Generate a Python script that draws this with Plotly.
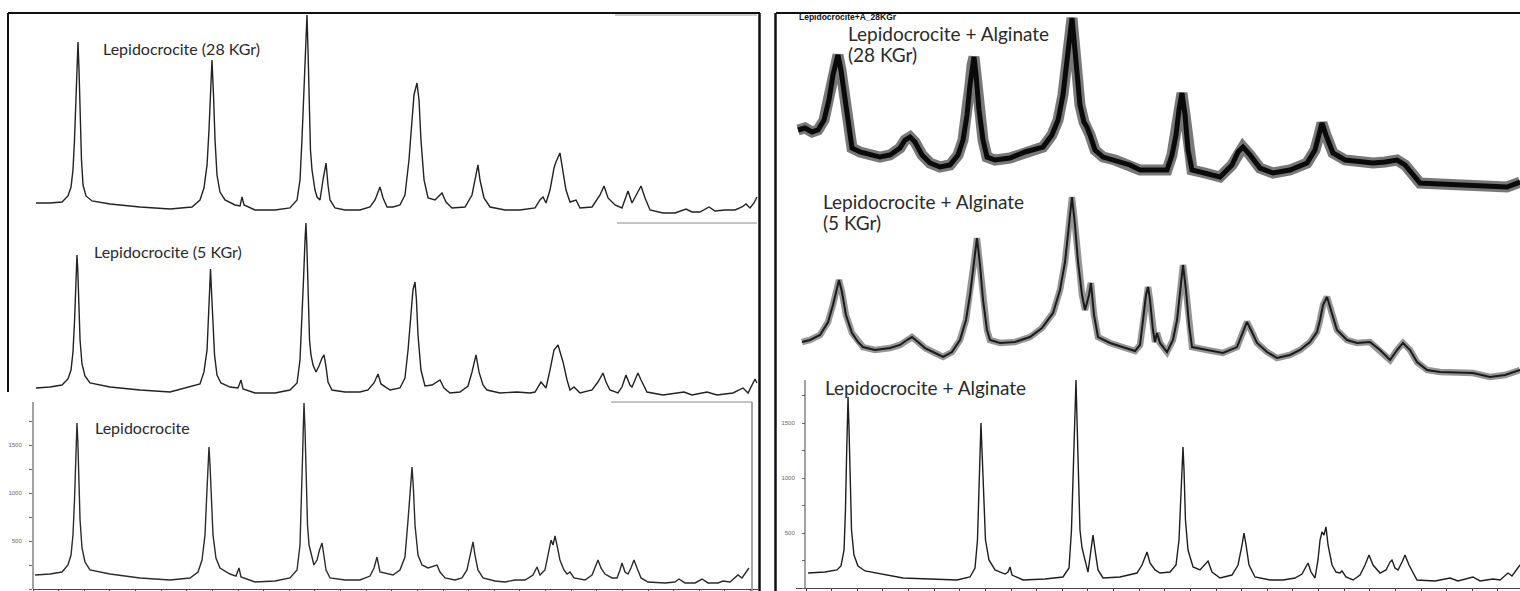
import plotly.graph_objects as go

# ---------------- data (2-theta in degrees, intensity in counts) ----------------
lb_tt = [10.20,11.66,12.83,13.41,13.71,13.90,14.05,14.15,14.24,14.29,14.37,14.47,14.59,14.78,15.07,15.56,17.51,20.44,23.37,25.32,
         26.10,26.49,26.78,26.93,27.07,27.17,27.27,27.41,27.56,27.85,28.24,29.22,29.80,30.10,30.29,31.66,33.61,35.07,35.76,36.05,
         36.20,36.29,36.39,36.44,36.54,36.63,36.78,36.93,37.12,37.41,37.71,37.95,38.20,38.39,38.59,38.98,40.44,41.90,42.88,43.27,
         43.56,43.85,45.12,45.80,46.29,46.59,46.83,46.98,47.12,47.27,47.56,47.95,48.54,49.12,49.41,49.71,50.20,51.17,51.85,52.34,
         52.63,52.93,53.12,53.41,53.90,55.07,56.05,57.02,58.00,58.78,59.17,59.46,59.95,60.34,60.54,60.73,60.93,61.12,61.41,61.80,
         62.10,62.39,62.78,63.85,64.54,64.93,65.12,65.41,65.80,66.49,66.98,67.27,67.46,67.76,68.05,68.34,68.63,68.93,69.32,70.00,
         71.66,72.63,73.02,73.61,74.59,75.27,75.85,76.83,77.32,78.00,78.78,79.17,79.56,79.85]
lb_int = [146,156,177,250,354,563,927,1292,1604,1729,1552,1135,719,427,281,198,156,115,94,115,
          177,302,563,927,1292,1479,1292,875,563,323,219,156,135,219,125,73,83,115,198,458,
          927,1344,1760,1937,1656,1135,667,458,375,250,302,406,479,354,198,115,94,94,135,219,
          333,177,146,198,333,719,1063,1271,1031,667,354,250,219,240,250,177,115,94,115,198,
          354,490,354,198,115,83,73,94,94,146,229,146,198,385,510,458,552,458,302,198,
          156,177,115,94,146,250,302,219,156,115,115,198,271,177,156,219,302,219,115,73,
          63,73,104,63,63,104,63,63,83,73,146,115,177,219]

lm_tt = [10.29,11.66,12.83,13.41,13.71,13.90,14.05,14.15,14.24,14.29,14.37,14.47,14.59,14.78,15.07,15.56,17.51,20.44,23.37,26.29,
         26.68,26.98,27.12,27.22,27.32,27.41,27.56,27.71,27.95,28.34,29.22,30.00,30.29,30.49,31.66,33.61,35.07,35.76,36.05,36.24,
         36.39,36.54,36.63,36.73,36.83,36.98,37.12,37.32,37.61,37.90,38.20,38.39,38.59,38.78,39.17,40.44,41.90,42.68,43.27,43.66,
         43.95,44.83,45.80,46.29,46.59,46.88,47.07,47.27,47.41,47.56,47.85,48.24,48.93,49.71,50.10,50.68,51.66,52.44,52.83,53.22,
         53.51,53.90,54.29,55.56,57.22,58.49,58.98,59.56,60.05,60.44,60.83,61.22,61.41,61.71,62.10,62.39,62.78,63.37,64.54,65.12,
         65.61,65.90,66.29,67.07,67.46,67.85,68.24,68.44,68.73,69.02,69.32,69.90,71.46,73.51,74.29,75.76,76.73,78.29,79.27,79.76,
         80.44,80.63]
lm_int = [146,156,177,240,333,521,833,1146,1406,1531,1375,1010,646,396,271,198,156,125,104,188,
          313,542,854,1167,1385,1167,802,490,281,198,156,146,229,135,94,94,125,198,438,854,
          1271,1688,1865,1583,1063,646,490,385,313,375,458,490,365,208,125,104,104,125,198,292,
          188,125,146,250,542,958,1167,1250,1063,698,333,167,177,229,146,94,104,167,313,490,
          313,177,125,94,104,94,104,208,146,333,542,594,521,417,229,125,156,94,125,208,
          302,208,125,94,156,281,177,156,229,302,229,104,73,104,73,104,73,94,146,94,
          240,198]

lt_tt = [10.29,11.66,12.83,13.41,13.71,13.90,14.05,14.15,14.29,14.39,14.49,14.59,14.73,14.88,15.17,15.76,17.51,20.44,23.37,25.51,
         26.29,26.68,26.98,27.17,27.32,27.46,27.61,27.76,27.95,28.24,28.73,29.71,30.20,30.39,30.59,31.66,33.61,35.07,35.76,36.05,
         36.24,36.44,36.59,36.73,36.83,36.93,37.07,37.22,37.51,37.71,38.00,38.29,38.59,38.78,38.98,39.46,40.44,41.90,42.88,43.37,
         43.66,43.85,44.15,44.54,45.12,45.80,46.29,46.68,46.98,47.17,47.46,47.66,47.85,48.15,48.54,49.22,49.90,50.29,50.88,52.15,
         52.83,53.22,53.41,53.61,54.00,54.59,56.05,57.51,58.98,59.46,59.76,60.05,60.44,60.83,61.02,61.41,61.71,62.00,62.39,62.98,
         63.37,64.54,65.32,65.71,66.10,66.78,67.46,67.85,68.05,68.44,68.83,69.32,69.71,70.20,71.46,72.63,73.71,74.29,75.07,75.95,
         76.54,77.51,78.49,79.17,79.56,79.95,80.34,80.63]
lt_int = [167,167,177,240,333,510,823,1188,1552,1844,1552,1031,615,354,240,188,156,125,104,125,
          198,323,563,927,1292,1656,1292,823,458,281,198,146,135,229,146,94,94,115,198,406,
          823,1344,1760,2125,1760,1240,719,510,302,229,198,406,583,354,198,115,94,94,125,198,
          281,333,219,125,125,146,250,615,1031,1292,1417,1240,823,406,219,198,271,177,115,125,
          250,458,563,406,219,125,94,94,115,198,229,167,302,531,594,688,510,302,177,198,
          115,125,250,344,219,146,115,219,292,167,250,344,219,94,63,63,104,73,73,125,
          83,94,94,125,156,115,167,229]

rb_tt = [10.20,11.85,13.02,13.41,13.71,13.85,13.95,14.03,14.10,14.20,14.29,14.44,14.68,15.07,15.76,17.71,19.46,22.10,24.73,26.00,
         26.49,26.73,26.88,26.98,27.07,27.17,27.32,27.51,27.85,28.44,29.41,29.71,29.90,30.10,31.17,33.32,35.07,35.66,35.90,36.05,
         36.20,36.34,36.44,36.59,36.73,36.93,37.22,37.51,37.80,38.00,38.20,38.49,38.98,40.63,42.29,42.78,43.27,43.56,44.05,44.54,
         45.52,46.10,46.39,46.59,46.68,46.78,46.88,47.02,47.27,47.76,48.44,48.93,49.22,49.61,50.39,51.56,52.15,52.54,52.73,52.93,
         53.22,53.80,55.27,56.54,57.71,58.39,58.98,59.27,59.66,59.95,60.15,60.34,60.54,60.73,60.93,61.32,61.71,62.10,62.29,62.68,
         63.37,64.05,64.54,64.93,65.32,66.00,66.59,66.98,67.17,67.46,67.76,68.15,68.44,68.83,69.61,71.37,72.83,73.61,75.07,75.76,
         77.02,77.71,78.20,78.49,78.88,79.27,79.66]
rb_int = [136,145,164,200,345,709,1164,1527,1736,1436,982,527,300,200,155,118,91,82,73,100,
          182,436,891,1255,1500,1255,800,436,255,164,127,145,191,118,73,82,100,182,527,1073,
          1618,1891,1527,982,527,364,255,145,345,482,345,164,91,100,136,209,327,227,164,136,
          145,209,436,891,1164,1282,1073,618,345,191,164,209,245,145,91,118,209,391,500,391,
          209,100,73,73,91,127,227,145,91,255,436,509,482,555,391,209,145,136,155,100,
          73,118,209,300,209,136,164,236,255,182,164,236,300,209,73,64,91,64,100,64,
          82,73,118,136,109,164,209]

rm_tt = [9.61,10.39,11.37,12.15,12.63,13.02,13.22,13.51,13.90,14.49,15.07,15.56,16.73,18.20,19.17,19.85,20.34,20.93,21.61,22.59,
         23.37,24.24,25.02,25.61,26.00,26.39,26.68,26.98,27.27,27.66,27.95,28.93,30.39,31.85,33.02,34.10,34.78,35.27,35.66,35.95,
         36.24,36.54,36.93,37.22,37.61,37.80,38.10,38.49,39.66,41.12,42.10,42.59,42.98,43.17,43.37,43.56,43.85,44.05,44.24,44.54,
         45.22,45.80,46.20,46.49,46.78,47.07,47.37,47.66,49.12,50.68,52.05,52.63,53.02,53.41,54.00,54.98,55.95,57.22,58.20,59.17,
         59.85,60.15,60.44,60.83,61.22,61.80,62.78,63.76,65.02,66.00,66.98,67.66,68.24,68.93,69.61,70.59,71.85,75.07,76.73,78.20,
         79.66]
rm_int = [391,409,455,573,727,882,955,845,636,473,391,345,318,336,364,409,436,391,336,291,
          255,300,409,591,818,1118,1336,1091,773,500,409,382,391,436,518,655,864,1118,1455,1709,
          1455,1118,818,682,818,927,636,436,382,336,309,364,636,818,891,773,500,391,473,382,
          300,409,591,864,1091,864,545,345,318,291,345,473,573,500,382,300,245,273,318,391,
          482,591,727,800,682,500,409,382,391,318,227,318,382,318,209,136,118,109,73,91,
          136]

rt_tt = [9.22,9.90,10.59,11.17,11.76,12.24,12.63,12.93,13.12,13.41,13.80,14.20,14.49,15.27,16.24,17.22,18.20,19.17,19.66,20.15,
         20.63,21.32,22.10,23.07,24.05,24.83,25.32,25.71,26.00,26.20,26.39,26.59,26.88,27.27,27.66,28.44,29.90,31.37,33.12,33.99,
         34.59,35.07,35.46,35.76,35.95,36.15,36.44,36.73,37.12,37.41,37.71,38.20,38.98,40.15,41.61,42.59,44.05,45.22,45.71,46.10,
         46.39,46.68,46.98,47.27,47.66,48.93,50.39,51.56,52.15,52.63,53.32,54.29,55.56,57.22,58.88,59.66,60.05,60.34,60.73,61.41,
         62.59,64.05,65.32,66.49,67.66,68.44,69.22,69.90,71.85,73.80,75.76,78.39,79.66]
rt_int = [591,609,573,591,682,864,1091,1227,1273,1136,864,591,427,391,364,345,364,427,500,527,
          482,364,291,255,273,364,500,727,1000,1182,1255,1091,773,500,345,318,336,391,436,545,
          682,909,1182,1455,1609,1409,1045,818,664,618,545,409,345,318,273,227,227,227,364,545,
          773,927,727,409,227,200,164,273,391,436,364,245,200,227,291,409,545,655,545,382,
          318,300,291,300,318,273,182,109,100,91,91,73,118]

tick_2theta = [10 + 2.5 * i for i in range(29)]
count_ticks = [0, 250, 500, 750, 1000, 1250, 1500, 1750]
count_labels = ["0", "", "500", "", "1000", "", "1500", ""]

labels = [
    ("Lepidocrocite (28 KGr)", 101, 48, 16),
    ("Lepidocrocite (5 KGr)", 92, 251, 16),
    ("Lepidocrocite", 93, 427, 16),
    ("Lepidocrocite + Alginate", 846, 33, 19),
    ("(28 KGr)", 846, 54, 19),
    ("Lepidocrocite + Alginate", 821, 201, 19),
    ("(5 KGr)", 821, 222, 19),
    ("Lepidocrocite + Alginate", 823, 387, 19),
]

# ---------------- layout helpers ----------------
W, H = 1520, 591
def px(x):
    return x / W
def py(y):
    return 1 - y / H

LEFT_X = [px(33), px(758)]
LEFT_XR = [10, 10 + (758 - 33) / 10.25]
RIGHT_X = [px(796), 1.0]
RIGHT_XR = [10 - 10 / 10.25, 10 + (1520 - 806) / 10.25]
LEFT_Y = [py(589), py(13)]
RIGHT_Y = [py(588), py(13)]
KL = 500 / 48.0   # counts per pixel, left column
KR = 500 / 55.0   # counts per pixel, right column

panels = [
    # name, tt, int, xdom, xrange, ydom, zero_px, bottom_px, top_px, k, styles
    ("Lepidocrocite", lb_tt, lb_int, LEFT_X, LEFT_XR, LEFT_Y, 589, 589, 13, KL,
     [("#2b2b2b", 1.4)]),
    ("Lepidocrocite (5 KGr)", lm_tt, lm_int, LEFT_X, LEFT_XR, LEFT_Y, 402, 589, 13, KL,
     [("#222222", 1.4)]),
    ("Lepidocrocite (28 KGr)", lt_tt, lt_int, LEFT_X, LEFT_XR, LEFT_Y, 219, 589, 13, KL,
     [("#222222", 1.4)]),
    ("Lepidocrocite + Alginate", rb_tt, rb_int, RIGHT_X, RIGHT_XR, RIGHT_Y, 588, 588, 13, KR,
     [("#1e1e1e", 1.4)]),
    ("Lepidocrocite + Alginate (5 KGr)", rm_tt, rm_int, RIGHT_X, RIGHT_XR, RIGHT_Y, 385, 588, 13, KR,
     [("rgba(20,20,20,0.45)", 6.5), ("#1a1a1a", 2.0)]),
    ("Lepidocrocite + Alginate (28 KGr)", rt_tt, rt_int, RIGHT_X, RIGHT_XR, RIGHT_Y, 195, 588, 13, KR,
     [("rgba(10,10,10,0.55)", 11), ("#0a0a0a", 5.0)]),
]

fig = go.Figure()
layout = dict(width=W, height=H, margin=dict(l=0, r=0, t=0, b=0),
              paper_bgcolor="white", plot_bgcolor="rgba(0,0,0,0)",
              showlegend=False, autosize=False)

for i, (name, tt, it, xd, xr, yd, z, bpx, tpx, k, styles) in enumerate(panels, start=1):
    sx = "" if i == 1 else str(i)
    for col, lw in styles:
        fig.add_trace(go.Scatter(x=tt, y=it, mode="lines", name=name,
                                 line=dict(color=col, width=lw, shape="linear"),
                                 xaxis="x" + sx, yaxis="y" + sx, hoverinfo="skip"))
    yr = [-(bpx - z) * k, (z - tpx) * k]
    xa = dict(domain=xd, range=xr, anchor="y" + sx, showgrid=False, zeroline=False,
              showticklabels=False, ticks="", showline=False, fixedrange=True)
    ya = dict(domain=yd, range=yr, anchor="x" + sx, showgrid=False, zeroline=False,
              showticklabels=False, ticks="", showline=False, fixedrange=True)
    if i in (1, 4):
        xa.update(showline=True, linecolor="#444", linewidth=1, ticks="outside",
                  ticklen=3, tickcolor="#444", tickwidth=1, tickvals=tick_2theta)
        ya.update(ticks="outside", ticklen=3, tickcolor="#666", tickwidth=1,
                  tickvals=count_ticks, ticktext=count_labels, showticklabels=True,
                  ticklabelstandoff=6,
                  tickfont=dict(size=6, color="#666", family="Liberation Sans"))
        if i == 4:
            ya.update(anchor="free", position=px(805))
    layout["xaxis" + sx] = xa
    layout["yaxis" + sx] = ya

fig.update_layout(**layout)

# ---------------- frames ----------------
def seg(x0, y0, x1, y1, color="black", width=2):
    fig.add_shape(type="line", xref="paper", yref="paper",
                  x0=px(x0), y0=py(y0), x1=px(x1), y1=py(y1),
                  line=dict(color=color, width=width))

seg(615, 15, 757, 15, "#9a9a9a", 1)
seg(617, 223, 757, 223, "#8a8a8a", 1)
seg(611, 402, 752, 402, "#8a8a8a", 1)
seg(752, 402, 752, 591, "#8a8a8a", 1.5)
seg(8, 13, 760, 13, "#111", 2)
seg(8, 13, 8, 392, "#111", 2)
seg(759.5, 13, 759.5, 591, "#111", 2.5)
seg(33, 402, 33, 589, "#444", 1)
seg(776, 13, 1520, 13, "#111", 2)
seg(775.5, 13, 775.5, 591, "#111", 2.5)
seg(805, 380, 805, 588, "#444", 1)

# ---------------- labels ----------------
for text, x, y, size in labels:
    fig.add_annotation(text=text, xref="paper", yref="paper", x=px(x), y=py(y),
                       xanchor="left", yanchor="middle", showarrow=False,
                       font=dict(family="Lato", size=size, color="#2a2a2a"))
fig.add_annotation(text="<b>Lepidocrocite+A_28KGr</b>", xref="paper", yref="paper",
                   x=px(797), y=py(17), xanchor="left", yanchor="middle", showarrow=False,
                   font=dict(family="Liberation Sans", size=8.5, color="#111"))

fig.write_html("out.html", config={"displayModeBar": False, "staticPlot": True})
